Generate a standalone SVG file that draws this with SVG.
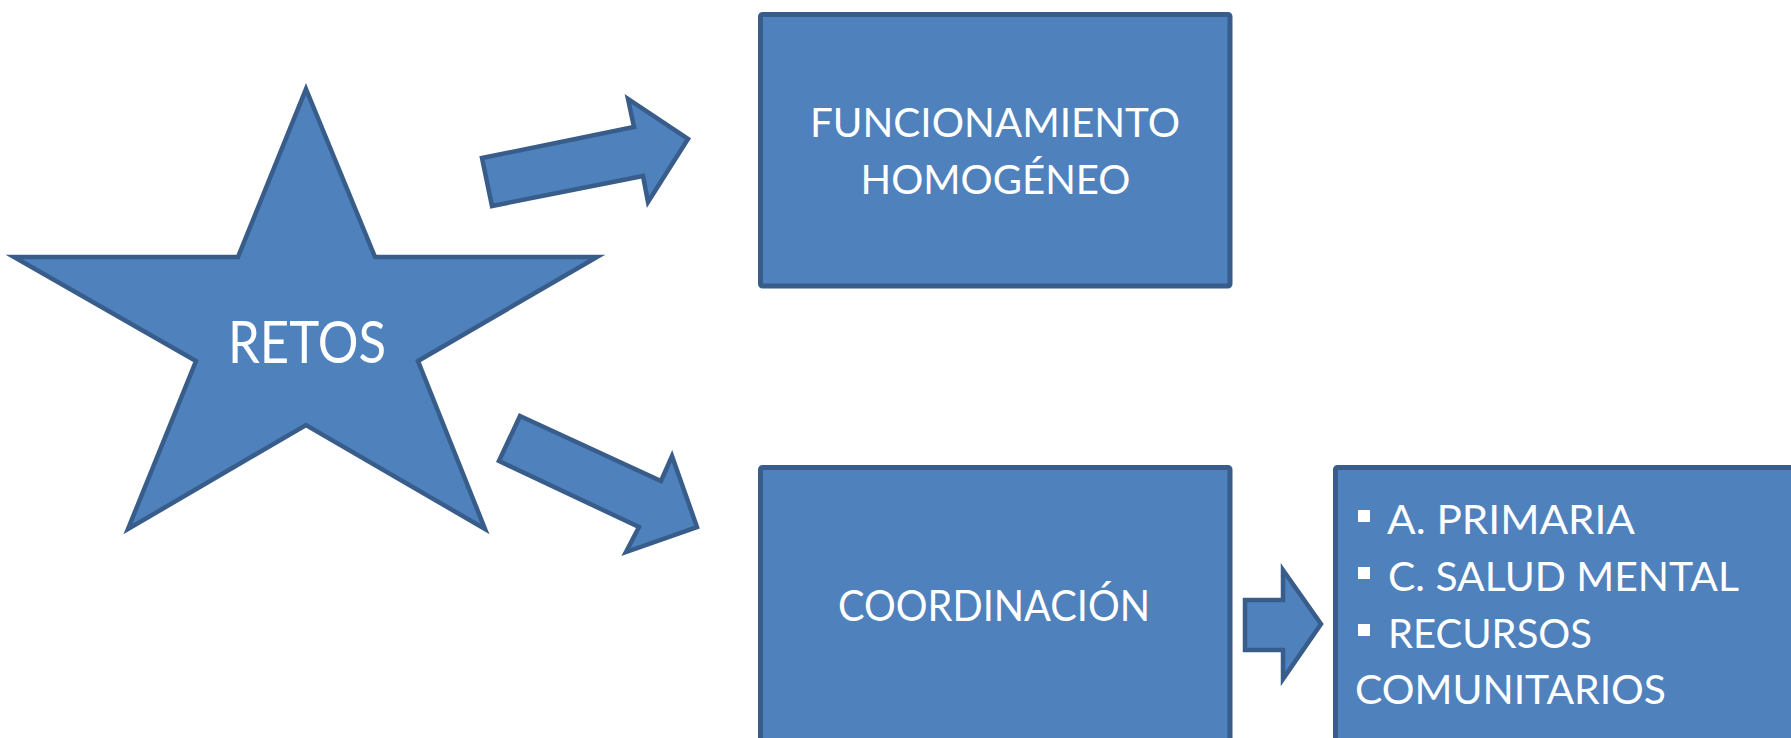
<svg xmlns="http://www.w3.org/2000/svg" width="1791" height="738" viewBox="0 0 1791 738">
<style>
.shape{fill:#4F81BD;stroke:#385D8A;stroke-width:4.5;stroke-linejoin:miter}
.box{fill:#4F81BD;stroke:#385D8A;stroke-width:5}
.t{font-family:Lato,"Open Sans","Liberation Sans",sans-serif;fill:#FFFFFF}
.c{text-anchor:middle}
.bullet{fill:#FFFFFF}
</style>
<rect width="1791" height="738" fill="#FFFFFF"/>
<g id="connectors">
<polygon class="shape" points="482,158 634,127 628,99 688,139 648,202 643,176 492,206"/>
<polygon class="shape" points="520,416 661,481 672,456 697,527 626,552 639,527 499,461"/>
<polygon class="shape" points="1245,600 1283,600 1283,570 1321,624 1283,679 1283,650 1245,650"/>
</g>
<g id="node-retos">
<polygon class="shape" points="306,89 375,257 597,257 418,361 485,529 306,425 128,529 196,361 14,257 238,257"/>
<text class="t c" x="307" y="363" font-size="58" textLength="158" lengthAdjust="spacingAndGlyphs">RETOS</text>
</g>
<g id="node-funcionamiento">
<rect class="box" x="760.5" y="14.5" width="469.5" height="271.5" rx="2"/>
<text class="t c" x="995" y="137" font-size="41" textLength="370" lengthAdjust="spacingAndGlyphs">FUNCIONAMIENTO</text>
<text class="t c" x="995.5" y="194" font-size="41" textLength="270" lengthAdjust="spacingAndGlyphs">HOMOGÉNEO</text>
</g>
<g id="node-coordinacion">
<rect class="box" x="760.5" y="467.5" width="469.5" height="300" rx="2"/>
<text class="t c" x="994" y="620.5" font-size="42" textLength="312" lengthAdjust="spacingAndGlyphs">COORDINACIÓN</text>
</g>
<g id="node-recursos">
<rect class="box" x="1335.5" y="467.5" width="500" height="300" rx="2"/>
<rect class="bullet" x="1358" y="510" width="12" height="12"/>
<rect class="bullet" x="1358" y="567" width="12" height="12"/>
<rect class="bullet" x="1358" y="624" width="12" height="12"/>
<text class="t" x="1387" y="534" font-size="41" textLength="248" lengthAdjust="spacingAndGlyphs">A. PRIMARIA</text>
<text class="t" x="1388" y="591" font-size="41" textLength="351" lengthAdjust="spacingAndGlyphs">C. SALUD MENTAL</text>
<text class="t" x="1388" y="648" font-size="41" textLength="204" lengthAdjust="spacingAndGlyphs">RECURSOS</text>
<text class="t" x="1355" y="704" font-size="41" textLength="311" lengthAdjust="spacingAndGlyphs">COMUNITARIOS</text>
</g>
</svg>
